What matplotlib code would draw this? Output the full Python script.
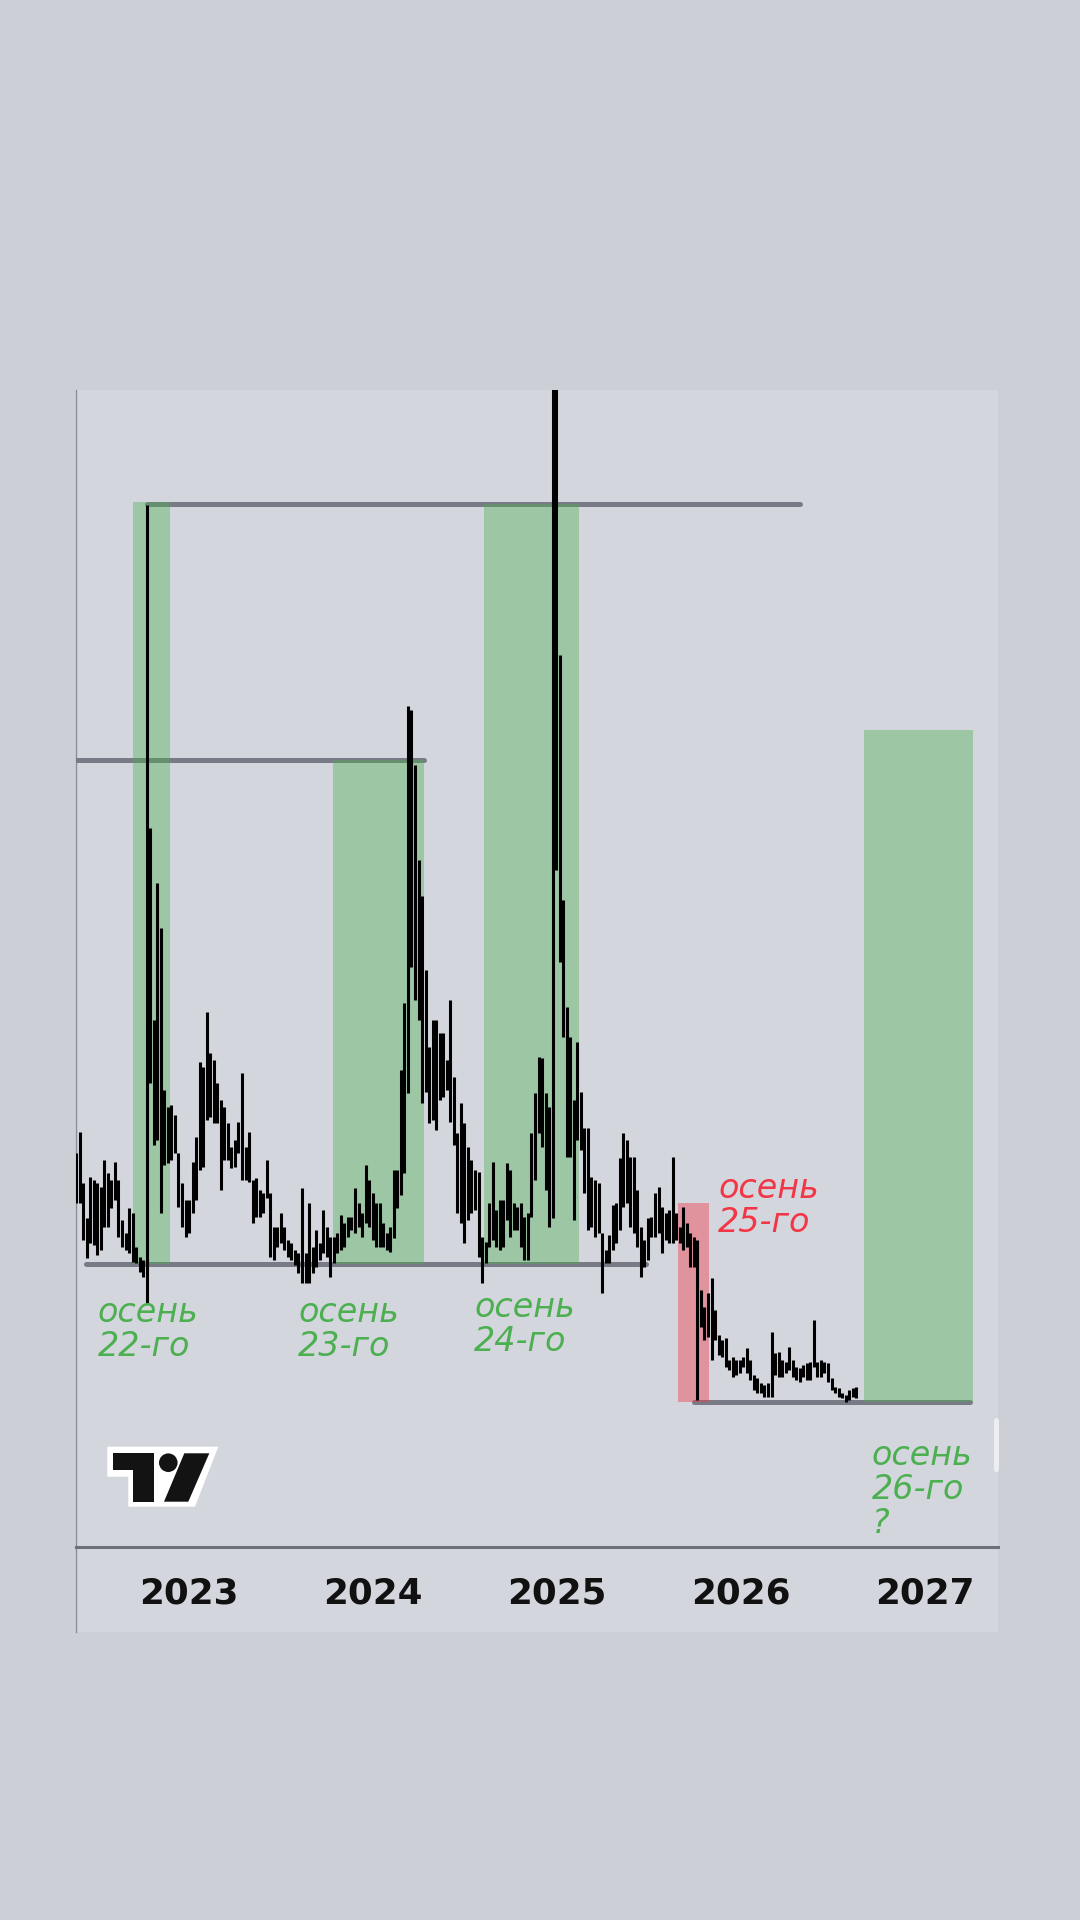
import numpy as np
import pandas as pd
import matplotlib
matplotlib.use('Agg')
import matplotlib.pyplot as plt
import matplotlib.dates as mdates
from matplotlib.patches import Polygon, Ellipse, Rectangle, FancyBboxPatch
from matplotlib.lines import Line2D

# weekly high / low bars
start = '2022-05-23'
highs = [39.4, 41.5, 36.4, 32.9, 37.0, 36.7, 36.4, 36.0, 38.7, 37.4, 36.7, 38.5, 36.7, 32.7, 31.4, 33.9, 33.4, 30.0, 29.0, 28.7,
         104.2, 71.9, 52.7, 66.4, 61.9, 45.7, 44.0, 44.2, 43.2, 39.4, 36.4, 34.7, 34.7, 38.5, 41.0, 48.5, 48.0, 53.5, 49.4, 48.7,
         46.4, 44.7, 44.0, 42.4, 40.0, 40.7, 42.5, 47.4, 40.0, 41.5, 36.7, 36.9, 35.7, 35.4, 38.7, 35.4, 32.0, 32.0, 33.4, 32.0,
         30.7, 30.4, 29.7, 29.4, 35.9, 29.4, 34.4, 30.0, 31.7, 30.4, 33.7, 32.0, 31.0, 31.0, 31.4, 33.2, 32.4, 33.0, 33.0, 35.9,
         34.4, 33.4, 38.2, 36.7, 35.4, 34.4, 34.4, 32.4, 31.4, 32.0, 37.7, 37.7, 47.7, 54.4, 84.1, 83.7, 78.2, 68.7, 65.1, 57.7,
         50.0, 52.7, 52.7, 51.4, 51.4, 48.7, 54.7, 47.0, 41.4, 44.4, 42.4, 40.0, 38.7, 37.7, 37.5, 31.0, 30.5, 34.4, 38.5, 33.7,
         34.7, 34.7, 38.4, 37.7, 34.4, 34.0, 34.4, 33.0, 33.4, 41.4, 45.4, 49.0, 48.9, 45.4, 44.0, 124.7, 124.7, 89.2, 64.7, 54.0,
         51.0, 44.7, 50.5, 45.5, 41.9, 41.9, 37.0, 36.7, 36.4, 31.4, 29.7, 31.2, 34.2, 34.4, 38.9, 41.4, 40.7, 39.0, 39.0, 35.7,
         32.0, 30.7, 32.9, 33.0, 35.4, 36.0, 34.0, 33.4, 33.7, 39.0, 33.4, 32.0, 34.0, 32.4, 31.4, 31.0, 30.7, 25.7, 24.0, 25.4,
         26.9, 23.7, 21.2, 20.7, 20.9, 18.7, 19.0, 18.7, 18.7, 19.0, 19.9, 18.7, 17.2, 16.9, 16.4, 16.2, 16.4, 21.5, 19.4, 19.5,
         18.7, 18.5, 20.0, 18.7, 18.0, 17.9, 18.2, 18.4, 18.5, 22.7, 18.5, 18.7, 18.5, 18.4, 16.9, 16.0, 15.9, 15.4, 15.2, 15.7,
         15.9, 16.0]
lows = [34.4, 34.4, 30.7, 28.9, 30.4, 30.2, 29.2, 29.7, 32.0, 32.0, 33.9, 34.7, 31.0, 30.0, 29.7, 29.4, 28.5, 28.4, 27.5, 27.0,
        24.4, 46.4, 40.2, 40.7, 33.4, 38.2, 38.4, 38.7, 39.4, 34.0, 32.0, 31.0, 31.4, 33.4, 34.7, 37.7, 38.0, 42.7, 43.0, 42.4,
        42.4, 35.7, 38.7, 38.7, 37.9, 38.0, 39.4, 36.7, 36.7, 36.5, 32.4, 33.0, 33.0, 33.4, 34.9, 29.0, 28.7, 30.0, 30.4, 29.7,
        29.0, 28.7, 28.2, 27.4, 26.4, 26.4, 26.4, 27.4, 28.0, 28.7, 29.4, 29.0, 27.0, 28.4, 29.4, 29.7, 30.0, 31.0, 31.7, 31.4,
        32.0, 31.0, 32.4, 32.0, 30.7, 30.0, 30.0, 30.0, 29.7, 29.5, 30.9, 33.9, 35.2, 37.4, 45.4, 58.0, 54.7, 52.7, 44.4, 45.5,
        42.4, 42.7, 41.7, 44.7, 45.0, 45.7, 42.5, 40.2, 33.4, 32.4, 30.4, 32.7, 33.4, 33.7, 29.0, 26.4, 28.4, 30.0, 30.7, 30.0,
        29.7, 30.0, 32.7, 31.0, 31.7, 31.7, 30.0, 28.7, 28.7, 33.0, 36.7, 41.4, 40.0, 35.7, 32.0, 32.9, 67.7, 58.5, 51.0, 39.0,
        39.0, 32.7, 40.7, 39.7, 35.4, 31.7, 32.0, 31.0, 31.4, 25.4, 28.4, 28.4, 29.7, 30.4, 31.7, 34.0, 34.4, 32.0, 31.4, 30.0,
        27.0, 28.0, 28.7, 31.0, 31.0, 31.4, 29.4, 30.7, 30.4, 30.4, 30.7, 30.4, 29.7, 30.0, 28.0, 28.0, 14.7, 22.0, 20.7, 21.0,
        18.7, 20.7, 19.2, 19.0, 18.0, 17.7, 17.0, 17.2, 17.4, 18.0, 17.4, 16.7, 15.7, 15.4, 15.4, 15.0, 15.0, 15.0, 17.2, 17.0,
        17.0, 17.4, 17.7, 17.0, 16.7, 16.5, 17.0, 16.7, 16.7, 18.0, 17.0, 17.0, 17.4, 16.5, 15.7, 15.4, 15.0, 14.9, 14.5, 14.7,
        15.0, 14.9]

# horizontal levels drawn on the chart
levels = [104.3, 78.7, 28.3, 14.5]
level_from = ['2022-10-10', '2022-05-01', '2022-06-12', '2025-09-29']
level_to = ['2026-04-27', '2024-04-12', '2025-06-27', '2027-03-30']

# autumn boxes
band_start = ['2022-09-12', '2023-10-14', '2024-08-08', '2026-09-02']
band_end = ['2022-11-25', '2024-04-12', '2025-02-13', '2027-04-05']
band_low = [28.3, 28.3, 28.3, 14.5]
band_high = [104.5, 78.7, 104.3, 81.7]

drop_start, drop_end = '2025-08-28', '2025-10-29'
drop_low, drop_high = 14.5, 34.4

label_text = ['осень\n22-го', 'осень\n23-го', 'осень\n24-го', 'осень\n25-го', 'осень\n26-го\n?']
label_date = ['2022-07-05', '2023-08-06', '2024-07-20', '2025-11-16', '2026-09-17']
label_y = [22.5, 22.5, 23.0, 34.9, 8.2]
label_red = [False, False, False, True, False]

years = [2023, 2024, 2025, 2026, 2027]

W, H = 1080, 1920
BG = '#cdcfd7'
PANEL = '#d4d6de'
GREEN = '#4caf50'
RED = '#f23645'
LEVEL = '#787b86'

plt.rcParams['font.family'] = 'DejaVu Sans'

fig = plt.figure(figsize=(W / 100, H / 100), dpi=100, facecolor=BG)


def px(x, y):
    return (x / W, 1 - y / H)


# chart panel (behind the axes)
fig.patches.append(Rectangle(px(75, 1632), 923 / W, (1632 - 390) / H, transform=fig.transFigure,
                             facecolor=PANEL, edgecolor='none', zorder=-10))
fig.lines.append(Line2D([75.5 / W, 75.5 / W], [1 - 390 / H, 1 - 1632 / H], transform=fig.transFigure,
                        color='#8a8c94', linewidth=1.0, zorder=-9))
fig.patches.append(FancyBboxPatch(px(994, 1472), 5 / W, 54 / H, boxstyle='round,pad=0,rounding_size=0.002',
                                  transform=fig.transFigure, facecolor='#eceef3', edgecolor='none', zorder=-9))

ax = fig.add_axes([76 / W, 1 - 1547 / H, 922 / W, (1547 - 390) / H])
ax.set_facecolor('none')

t0 = mdates.date2num(pd.Timestamp(start))
ax.set_xlim(t0 - 0.2, t0 - 0.2 + 922 / 3.53 * 7)
ax.set_ylim(0, 115.7)

weeks = mdates.date2num(pd.date_range(start, periods=len(highs), freq='7D'))

# levels (under the boxes)
lc = ax.hlines(levels, mdates.date2num(pd.to_datetime(level_from)), mdates.date2num(pd.to_datetime(level_to)),
               colors=LEVEL, linewidth=3.6, zorder=1)
lc.set_capstyle('round')

# boxes
bs = mdates.date2num(pd.to_datetime(band_start))
be = mdates.date2num(pd.to_datetime(band_end))
ax.bar(bs, np.array(band_high) - np.array(band_low), width=be - bs, bottom=band_low, align='edge',
       color=GREEN, alpha=0.4, linewidth=0, zorder=2)
ds, de = mdates.date2num(pd.Timestamp(drop_start)), mdates.date2num(pd.Timestamp(drop_end))
ax.bar(ds, drop_high - drop_low, width=de - ds, bottom=drop_low, align='edge',
       color=RED, alpha=0.42, linewidth=0, zorder=2)

# price bars
bars = ax.vlines(weeks, lows, highs, colors='black', linewidth=2.2, zorder=3)
bars.set_capstyle('butt')

# season labels
for txt, d, y, red in zip(label_text, label_date, label_y, label_red):
    for j, line in enumerate(txt.split('\n')):
        ax.text(mdates.date2num(pd.Timestamp(d)), y - j * 3.4, line, color=RED if red else GREEN,
                fontsize=24, style='oblique', ha='left', va='baseline', zorder=4)

# axis
for s in ['top', 'right', 'left']:
    ax.spines[s].set_visible(False)
ax.spines['bottom'].set_color('#6e7078')
ax.spines['bottom'].set_linewidth(2.2)
ax.set_yticks([])
ax.set_xticks(mdates.date2num(pd.to_datetime([f'{y}-01-01' for y in years])))
ax.set_xticklabels([str(y) for y in years], fontsize=25.7, fontweight='bold', color='#111111')
ax.tick_params(axis='x', length=0, pad=21)

# tradingview logo
fig.patches.append(Polygon([px(107.3, 1446.7), px(218.3, 1446.7), px(195, 1506.7), px(128.3, 1506.7),
                            px(128.3, 1476.7), px(107.3, 1476.7)], closed=True, transform=fig.transFigure,
                           facecolor='white', edgecolor='none', zorder=5))
fig.patches.append(Polygon([px(112.7, 1453.3), px(154, 1453.3), px(154, 1501.7), px(133.3, 1501.7),
                            px(133.3, 1470), px(112.7, 1470)], closed=True, transform=fig.transFigure,
                           facecolor='#131313', edgecolor='none', zorder=6))
fig.patches.append(Ellipse(px(168.3, 1462.7), 18.6 / W, 18.6 / H, transform=fig.transFigure,
                           facecolor='#131313', edgecolor='none', zorder=6))
fig.patches.append(Polygon([px(184.3, 1453.3), px(209.3, 1453.3), px(188.3, 1501.7), px(164, 1501.7)],
                           closed=True, transform=fig.transFigure, facecolor='#131313', edgecolor='none', zorder=6))

fig.savefig('out.png', dpi=100, facecolor=BG)
